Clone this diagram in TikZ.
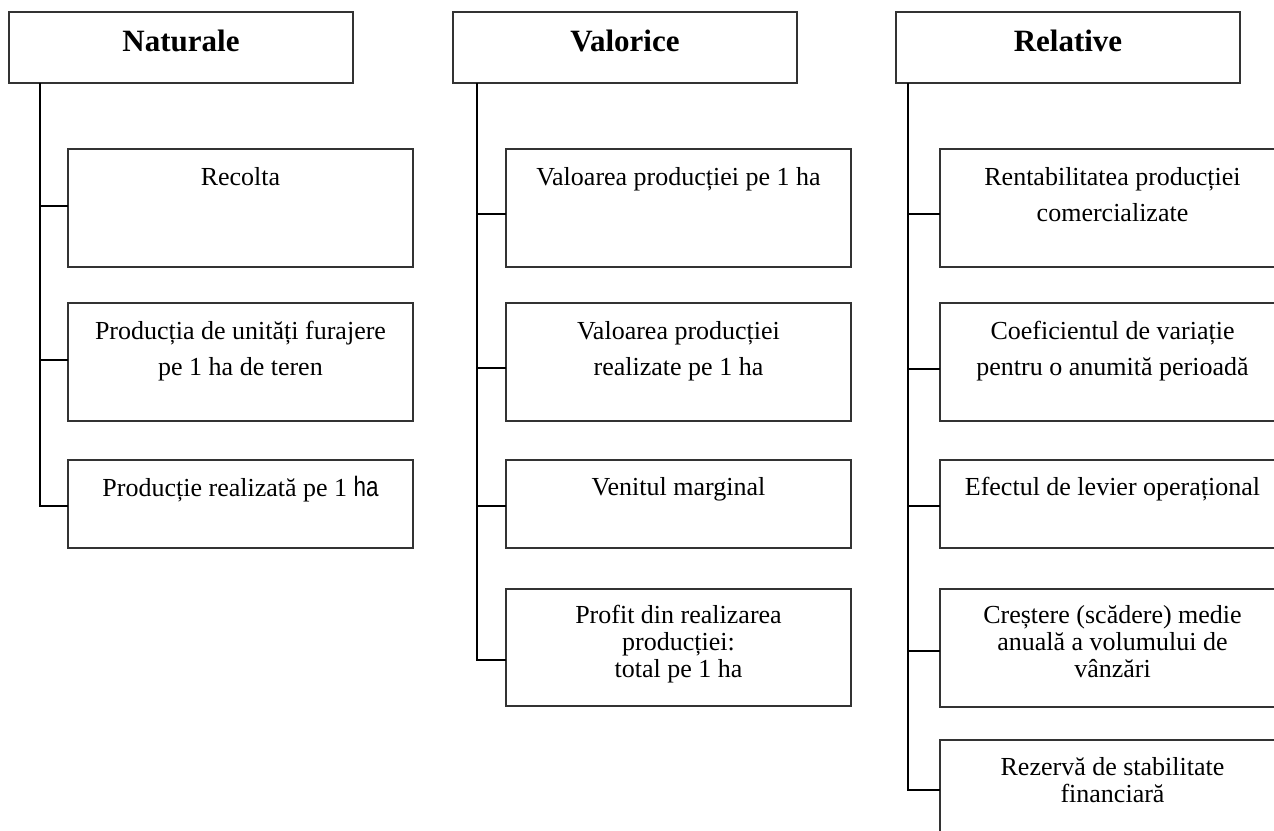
\documentclass[tikz,border=0pt]{standalone}
\usepackage{fontspec}
\setmainfont{Liberation Serif}
\newfontfamily\hasans{Liberation Sans}
\usepackage{graphicx}
% #1 box height, #2 line spacing, #3 first baseline, #4 text
\newcommand{\bt}[4]{\parbox[t][#1pt][t]{345pt}{\centering\fontsize{26}{#2}\selectfont\rule{0pt}{#3pt}#4}}
\newcommand{\hdtext}[1]{\parbox[t][71pt][t]{344pt}{\centering\fontsize{31}{35}\selectfont\bfseries\rule{0pt}{39pt}#1}}
\newcommand{\bigha}{{\hasans\fontsize{28}{30}\selectfont\scalebox{0.8}[1]{ha}}}
\begin{document}
\begin{tikzpicture}[x=1pt,y=-1pt,
  bx/.style={draw=black!80, line width=1.1pt, inner sep=0pt, outer sep=0pt, anchor=north west},
  conn/.style={draw=black, line width=1.9pt}]
\useasboundingbox (0,0) rectangle (1274,830);
\clip (0,0) rectangle (1274,830);

% headers
\node[bx] (hN) at (9,12) {\hdtext{Naturale}};
\node[bx] (hV) at (453,12) {\hdtext{Valorice}};
\node[bx] (hR) at (896,12) {\hdtext{Relative}};

% Naturale
\node[bx] (n1) at (68,149) {\bt{118}{36}{36}{Recolta}};
\node[bx] (n2) at (68,303) {\bt{118}{36}{36}{Producția de unități furajere\\pe 1 ha de teren}};
\node[bx] (n3) at (68,460) {\bt{88}{36}{36}{Producție realizată pe 1 \bigha}};

% Valorice
\node[bx] (v1) at (506,149) {\bt{118}{36}{36}{Valoarea producției pe 1 ha}};
\node[bx] (v2) at (506,303) {\bt{118}{36}{36}{Valoarea producției\\realizate pe 1 ha}};
\node[bx] (v3) at (506,460) {\bt{88}{36}{35}{Venitul marginal}};
\node[bx] (v4) at (506,589) {\bt{117}{27}{34}{Profit din realizarea\\producției:\\total pe 1 ha}};

% Relative
\node[bx] (r1) at (940,149) {\bt{118}{36}{36}{Rentabilitatea producției\\comercializate}};
\node[bx] (r2) at (940,303) {\bt{118}{36}{36}{Coeficientul de variație\\pentru o anumită perioadă}};
\node[bx] (r3) at (940,460) {\bt{88}{36}{35}{Efectul de levier operațional}};
\node[bx] (r4) at (940,589) {\bt{118}{27}{34}{Creștere (scădere) medie\\anuală a volumului de\\vânzări}};
\node[bx] (r5) at (940,740) {\bt{118}{27}{35}{Rezervă de stabilitate\\financiară}};

% junctions
\coordinate (nj1) at (40,206);
\coordinate (nj2) at (40,360);
\coordinate (nj3) at (40,506);
\coordinate (vj1) at (477,214);
\coordinate (vj2) at (477,368);
\coordinate (vj3) at (477,506);
\coordinate (vj4) at (477,660);
\coordinate (rj1) at (908,214);
\coordinate (rj2) at (908,369);
\coordinate (rj3) at (908,506);
\coordinate (rj4) at (908,651);
\coordinate (rj5) at (908,790);

% Naturale connectors
\draw[conn] (nj3 |- hN.south) -- (nj3) -- (nj3 -| n3.west);
\draw[conn] (nj1) -- (nj1 -| n1.west);
\draw[conn] (nj2) -- (nj2 -| n2.west);

% Valorice connectors
\draw[conn] (vj4 |- hV.south) -- (vj4) -- (vj4 -| v4.west);
\draw[conn] (vj1) -- (vj1 -| v1.west);
\draw[conn] (vj2) -- (vj2 -| v2.west);
\draw[conn] (vj3) -- (vj3 -| v3.west);

% Relative connectors
\draw[conn] (rj5 |- hR.south) -- (rj5) -- (rj5 -| r5.west);
\draw[conn] (rj1) -- (rj1 -| r1.west);
\draw[conn] (rj2) -- (rj2 -| r2.west);
\draw[conn] (rj3) -- (rj3 -| r3.west);
\draw[conn] (rj4) -- (rj4 -| r4.west);
\end{tikzpicture}
\end{document}
